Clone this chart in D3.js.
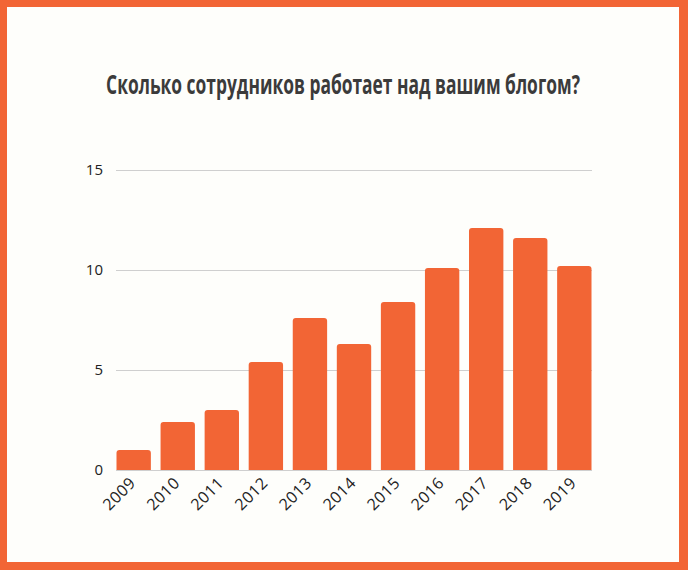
<!DOCTYPE html>
<html>
<head>
<meta charset="utf-8">
<script src="https://cdn.jsdelivr.net/npm/d3@7"></script>
<style>
  html, body { margin: 0; padding: 0; background: #f26535; }
  svg { display: block; }
</style>
</head>
<body>
<svg id="chart" width="688" height="570"></svg>
<script>
// data
const years = ["2009", "2010", "2011", "2012", "2013", "2014", "2015", "2016", "2017", "2018", "2019"];
const staff = [1.0, 2.4, 3.0, 5.4, 7.6, 6.3, 8.4, 10.1, 12.1, 11.6, 10.2];
const yTicks = [0, 5, 10, 15];
const title = "Сколько сотрудников работает над вашим блогом?";

const svg = d3.select("#chart");
const orange = "#f26535";

// frame
svg.append("rect").attr("width", 688).attr("height", 570).attr("fill", orange);
svg.append("rect")
  .attr("x", 7).attr("y", 7)
  .attr("width", 672).attr("height", 555)
  .attr("fill", "#fefefb");

// title: condensed look by squeezing horizontally to the reference width
const t = svg.append("text")
  .attr("text-anchor", "middle")
  .attr("fill", "#3b3b3b")
  .style("font-family", "'Open Sans', 'DejaVu Sans', sans-serif")
  .style("font-weight", "bold")
  .style("font-size", "26.5px")
  .text(title);
const tw = t.node().getComputedTextLength();
const sx = tw > 0 ? 474 / tw : 1;
t.attr("transform", `translate(343,94) scale(${sx.toFixed(4)},1)`);

const x = d3.scaleBand()
  .domain(years)
  .range([116.5, 591.5])
  .paddingInner(0.22)
  .paddingOuter(0);

const y = d3.scaleLinear()
  .domain([0, 15])
  .range([470, 170]);

// grid
svg.append("g")
  .selectAll("line")
  .data(yTicks)
  .join("line")
  .attr("x1", 116).attr("x2", 592)
  .attr("y1", d => y(d) + 0.5).attr("y2", d => y(d) + 0.5)
  .attr("stroke", "#cfcfcf")
  .attr("stroke-width", 1);

// y labels
svg.append("g")
  .selectAll("text")
  .data(yTicks)
  .join("text")
  .attr("x", 103)
  .attr("y", d => y(d))
  .attr("dy", "0.35em")
  .attr("text-anchor", "end")
  .attr("fill", "#222")
  .style("font-family", "'Open Sans', Lato, sans-serif")
  .style("font-size", "15px")
  .text(d => d);

// bars with rounded tops
const r = 3;
svg.append("g")
  .selectAll("path")
  .data(years)
  .join("path")
  .attr("fill", orange)
  .attr("d", (d, i) => {
    const x0 = x(d), w = x.bandwidth();
    const y0 = y(staff[i]), y1 = y(0);
    return `M${x0},${y1} V${y0 + r} Q${x0},${y0} ${x0 + r},${y0} H${x0 + w - r} Q${x0 + w},${y0} ${x0 + w},${y0 + r} V${y1} Z`;
  });

// x labels
svg.append("g")
  .selectAll("text")
  .data(years)
  .join("text")
  .attr("transform", d => `translate(${x(d) + x.bandwidth() / 2 + 3},${484}) rotate(-45)`)
  .attr("text-anchor", "end")
  .attr("fill", "#222")
  .style("font-family", "'Open Sans', Lato, sans-serif")
  .style("font-size", "16px")
  .style("letter-spacing", "0.5px")
  .text(d => d);
</script>
</body>
</html>
